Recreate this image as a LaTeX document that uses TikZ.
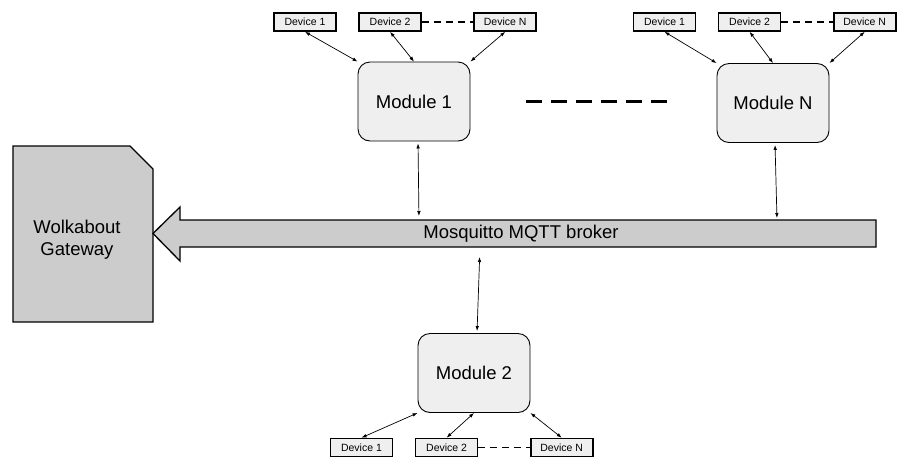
\documentclass[tikz,border=0pt]{standalone}
\usepackage{fontspec}
\setmainfont{Liberation Sans}
\usetikzlibrary{positioning,arrows.meta}
\definecolor{lightbox}{HTML}{EFEFEF}
\definecolor{darkbox}{HTML}{CCCCCC}

\begin{document}
\begin{tikzpicture}[x=1pt, y=-1pt,
  module/.style={rectangle, draw, rounded corners=12pt, fill=lightbox, line width=0.9pt, minimum width=112pt, minimum height=79pt, font=\fontsize{18.5}{22}\selectfont},
  device/.style={rectangle, draw, fill=lightbox, line width=1.6pt, minimum width=62pt, minimum height=18pt, inner sep=1pt, font=\fontsize{10.5}{12}\selectfont},
  link/.style={<->, >={Latex[length=5pt,width=3.6pt]}, line width=0.7pt},
  etc/.style={dash pattern=on 7pt off 5pt, line width=1.6pt},
  bigetc/.style={dash pattern=on 16pt off 9pt, line width=3pt},
  big/.style={font=\fontsize{18.5}{22}\selectfont}]
   \useasboundingbox (0,0) rectangle (905,467);
   \draw[fill=darkbox, line width=1.3pt] (13,146) -- (130,146) -- (153,169) -- (153,322) -- (13,322) -- cycle;
   \draw[fill=darkbox, line width=1.3pt] (876,220) -- (180,220) -- (180,207) -- (153,233.5) -- (180,261) -- (180,247) -- (876,247) -- cycle;
   \node[big, align=center] (gw) at (77,240) {Wolkabout\\Gateway};
   \node[big] (broker) at (521,234) {Mosquitto MQTT broker};
   \coordinate (shafttop) at (0,220);
   \coordinate (shaftbot) at (0,247);

   \node[module] (m1) at (414,101.5) {Module 1};
   \node[module] (mN) at (773,103) {Module N};
   \node[module] (m2) at (474,373) {Module 2};

   \node[device] (a1) at (305,22) {Device 1};
   \node[device, right=21.5pt of a1] (a2) {Device 2};
   \node[device, right=51.5pt of a2] (a3) {Device N};
   \node[device] (b1) at (664.5,22) {Device 1};
   \node[device, right=21.5pt of b1] (b2) {Device 2};
   \node[device, right=51.5pt of b2] (b3) {Device N};
   \node[device] (c1) at (361.5,447.5) {Device 1};
   \node[device, right=21.5pt of c1] (c2) {Device 2};
   \node[device, right=51.5pt of c2] (c3) {Device N};

   \draw[etc] (a2) -- (a3);
   \draw[etc] (b2) -- (b3);
   \draw[etc] (c2) -- (c3);
   \draw[bigetc, shorten <=56pt, shorten >=50pt] (m1.east) -- (m1.east -| mN.west);

   \draw[link] (a1.south) -- (m1.north west);
   \draw[link] (a2.south) -- (m1.north);
   \draw[link] (a3.south) -- (m1.north east);
   \draw[link] (b1.south) -- (mN.north west);
   \draw[link] (b2.south) -- (mN.north);
   \draw[link] (b3.south) -- (mN.north east);
   \draw[link] (c1.north) -- (m2.south west);
   \draw[link] (c2.north) -- (m2.south);
   \draw[link] (c3.north) -- (m2.south east);

   \draw[link, shorten <=2pt, shorten >=4pt] ([xshift=4pt]m1.south) -- ([xshift=5pt]m1.south |- shafttop);
   \draw[link, shorten <=2pt, shorten >=2pt] ([xshift=2pt]mN.south) -- ([xshift=4pt]mN.south |- shafttop);
   \draw[link, shorten <=10pt, shorten >=2pt] ([xshift=6pt]m2.north |- shaftbot) -- ([xshift=3pt]m2.north);
 \end{tikzpicture}
\end{document}
